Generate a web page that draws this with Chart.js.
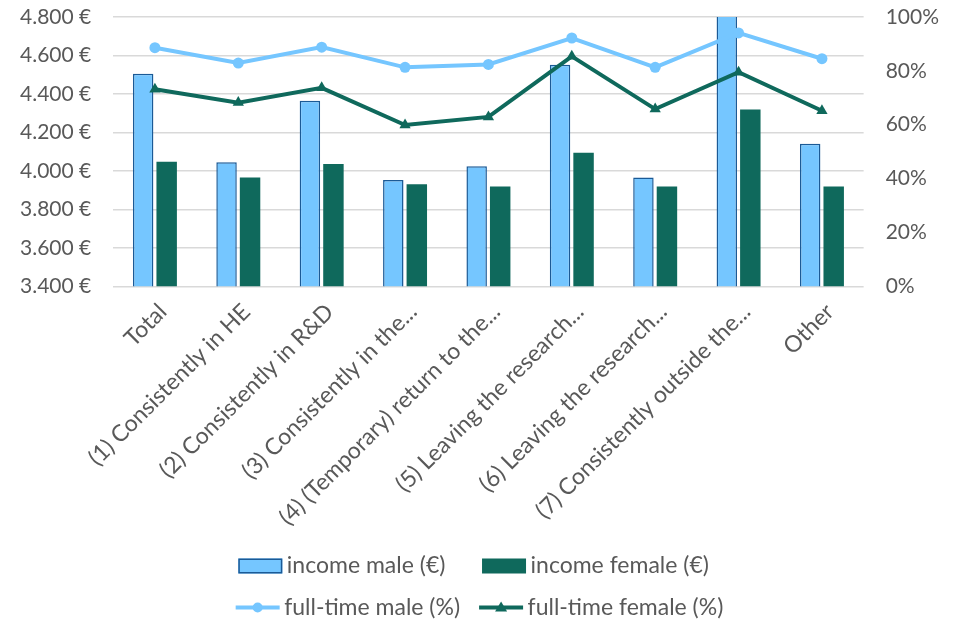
<!DOCTYPE html>
<html>
<head>
<meta charset="utf-8">
<script src="https://cdn.jsdelivr.net/npm/chart.js@4.4.1/dist/chart.umd.min.js"></script>
<style>
    html, body { margin: 0; padding: 0; background: #ffffff; }
    #box { width: 957px; height: 619px; }
</style>
</head>
<body>
<div id="box"><canvas id="chart"></canvas></div>
<script>
const categories = [
    "Total",
    "(1) Consistently in HE",
    "(2) Consistently in R&D",
    "(3) Consistently in the...",
    "(4) (Temporary) return to the...",
    "(5) Leaving the research...",
    "(6) Leaving the research...",
    "(7) Consistently outside the...",
    "Other"
];
const incomeMale = [4505, 4045, 4365, 3952, 4024, 4552, 3966, 4870, 4141];
const incomeFemale = [4047, 3966, 4036, 3931, 3919, 4094, 3919, 4319, 3919];
const fullTimeMale = [88.6, 82.9, 88.8, 81.3, 82.4, 92.2, 81.3, 94.1, 84.5];
const fullTimeFemale = [73.2, 68.2, 73.7, 59.9, 62.9, 85.4, 65.8, 79.5, 65.2];
const euroTicks = [3400, 3600, 3800, 4000, 4200, 4400, 4600, 4800];
const pctTicks = [0, 20, 40, 60, 80, 100];

const lightBlue = "#75C6FF";
const darkBlue = "#1B5A96";
const teal = "#0F695C";
const grey = "#595959";
const fontName = "Lato, 'Open Sans', sans-serif";
// trailing spaces per dataset in the legend, to line the two columns up
const legendPad = [3, 2, 0, 0];

function euro(v) {
    let s = String(v);
    return s.slice(0, s.length - 3) + "." + s.slice(-3) + " €";
}

// the legend keeps two entries per row
const legendRows = {
    id: "legendRows",
    beforeLayout(chart) {
        let lg = chart.legend;
        if (!lg || lg._rowsPatched) return;
        let orig = lg.update.bind(lg);
        lg.update = (w, h, m) => orig(Math.min(w, 600), h, m);
        lg._rowsPatched = true;
    }
};

// draws the legend glyphs: wide boxes for bars, line + marker for lines
const legendGlyphs = {
    id: "legendGlyphs",
    afterDraw(chart) {
        let lg = chart.legend;
        let ctx = chart.ctx;
        lg.legendItems.forEach((item, i) => {
            let ds = chart.data.datasets[item.datasetIndex];
            let hb = lg.legendHitBoxes[i];
            let y = hb.top + hb.height / 2;
            let x = hb.left;
            ctx.save();
            if (ds.type === "line") {
                ctx.strokeStyle = ds.borderColor;
                ctx.fillStyle = ds.borderColor;
                ctx.lineWidth = 4;
                ctx.beginPath();
                ctx.moveTo(x, y);
                ctx.lineTo(x + 44, y);
                ctx.stroke();
                ctx.beginPath();
                if (ds.pointStyle === "triangle") {
                    ctx.moveTo(x + 22, y - 6);
                    ctx.lineTo(x + 28, y + 4);
                    ctx.lineTo(x + 16, y + 4);
                    ctx.closePath();
                } else {
                    ctx.arc(x + 22, y, 5, 0, Math.PI * 2);
                }
                ctx.fill();
            } else {
                ctx.fillStyle = ds.backgroundColor;
                ctx.fillRect(x, y - 7, 44, 15);
                if (ds.borderWidth > 0) {
                    ctx.strokeStyle = ds.borderColor;
                    ctx.lineWidth = 1.5;
                    ctx.strokeRect(x + 0.75, y - 6.25, 42.5, 13.5);
                }
            }
            ctx.restore();
        });
    }
};

let char = document.getElementById("chart");
let mixChart = new Chart(char, {
    type: "bar",
    data: {
        labels: categories,
        datasets: [
            {
                label: "income male (€)",
                data: incomeMale,
                backgroundColor: lightBlue,
                borderColor: darkBlue,
                borderWidth: 1.5,
                yAxisID: "y",
                order: 2,
                categoryPercentage: 0.564,
                barPercentage: 0.87
            },
            {
                label: "income female (€)",
                data: incomeFemale,
                backgroundColor: teal,
                borderColor: teal,
                borderWidth: 0,
                yAxisID: "y",
                order: 2,
                categoryPercentage: 0.564,
                barPercentage: 0.87
            },
            {
                type: "line",
                label: "full-time male (%)",
                data: fullTimeMale,
                borderColor: lightBlue,
                backgroundColor: lightBlue,
                borderWidth: 4,
                pointStyle: "circle",
                pointRadius: 5.5,
                pointBorderWidth: 0,
                tension: 0,
                yAxisID: "y1",
                order: 1
            },
            {
                type: "line",
                label: "full-time female (%)",
                data: fullTimeFemale,
                borderColor: teal,
                backgroundColor: teal,
                borderWidth: 4,
                pointStyle: "triangle",
                pointRadius: 6.5,
                pointBorderWidth: 0,
                tension: 0,
                yAxisID: "y1",
                order: 1
            }
        ]
    },
    options: {
        responsive: true,
        maintainAspectRatio: false,
        animation: false,
        layout: { padding: { left: -2, right: -4, top: 17, bottom: -10 } },
        plugins: {
            tooltip: { enabled: false },
            legend: {
                position: "bottom",
                labels: {
                    color: grey,
                    font: { family: fontName, size: 23 },
                    boxWidth: 37,
                    boxHeight: 15,
                    padding: 19,
                    sort: (a, b) => a.datasetIndex - b.datasetIndex,
                    generateLabels: (chart) => {
                        let items = Chart.defaults.plugins.legend.labels.generateLabels(chart);
                        items.forEach((it) => {
                            it.text = it.text + " ".repeat(legendPad[it.datasetIndex]);
                            it.fillStyle = "rgba(0,0,0,0)";
                            it.strokeStyle = "rgba(0,0,0,0)";
                            it.lineWidth = 0;
                        });
                        return items;
                    }
                }
            }
        },
        scales: {
            x: {
                grid: { display: false },
                border: { display: false },
                ticks: {
                    color: grey,
                    font: { family: fontName, size: 23 },
                    minRotation: 45,
                    maxRotation: 45,
                    autoSkip: false,
                    padding: 4,
                    labelOffset: 8
                }
            },
            y: {
                position: "left",
                min: 3400,
                max: 4800,
                afterBuildTicks: (scale) => {
                    scale.ticks = euroTicks.map((v) => ({ value: v }));
                },
                afterFit: (scale) => {
                    scale.paddingTop = 0;
                    scale.paddingBottom = 0;
                },
                grid: { color: "#d9d9d9", lineWidth: 1.5, drawTicks: false },
                border: { display: false },
                ticks: {
                    color: grey,
                    font: { family: fontName, size: 21 },
                    padding: 22,
                    callback: (v) => euro(v)
                }
            },
            y1: {
                position: "right",
                min: 0,
                max: 100,
                afterBuildTicks: (scale) => {
                    scale.ticks = pctTicks.map((v) => ({ value: v }));
                },
                afterFit: (scale) => {
                    scale.paddingTop = 0;
                    scale.paddingBottom = 0;
                },
                grid: { display: false, drawTicks: false },
                border: { display: false },
                ticks: {
                    color: grey,
                    font: { family: fontName, size: 21 },
                    padding: 22,
                    callback: (v) => v + "%"
                }
            }
        }
    },
    plugins: [legendRows, legendGlyphs]
});
</script>
</body>
</html>
